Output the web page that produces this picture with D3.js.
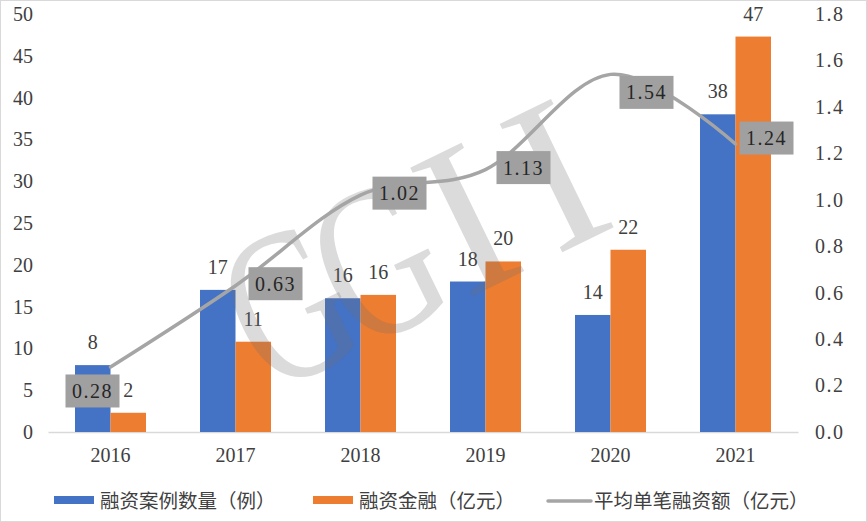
<!DOCTYPE html>
<html><head><meta charset="utf-8">
<script src="https://cdn.jsdelivr.net/npm/d3@7"></script>
<style>
body{margin:0;background:#fff;}
svg{display:block;}
</style></head>
<body><svg id="c" width="867" height="522"></svg>
<script>
const years = ["2016","2017","2018","2019","2020","2021"];
const caseCount = [8, 17, 16, 18, 14, 38];
const amount = [2.3, 10.8, 16.4, 20.4, 21.8, 47.3];
const avgAmount = [0.28, 0.63, 1.02, 1.13, 1.54, 1.24];
const leftTicks = [0,5,10,15,20,25,30,35,40,45,50];
const rightTicks = [0,0.2,0.4,0.6,0.8,1.0,1.2,1.4,1.6,1.8];
const seriesNames = ["融资案例数量（例）","融资金融（亿元）","平均单笔融资额（亿元）"];
const watermark = ["G","G","I","I"];
// label offsets (layout only)
const lblOff = [[-18,24],[40,-2],[39,-2],[38,-2],[36,18],[31,-6]];

const svg = d3.select("#c");
const numFont = "'Liberation Serif', 'DejaVu Serif', serif";
const cjkFont = "'Noto Sans CJK SC', sans-serif";
const blue = "#4472c4", orange = "#ed7d31", gray = "#a5a5a5";

svg.append("rect").attr("x",0.5).attr("y",0.5).attr("width",866).attr("height",521)
  .attr("fill","#fff").attr("stroke","#d9d9d9");

const x0 = d3.scaleBand().domain(years).range([48,798]).paddingInner(0.432).paddingOuter(0.216);
const x1 = d3.scaleBand().domain([0,1]).range([0,x0.bandwidth()]);
const yL = d3.scaleLinear().domain([0,50]).range([432,14]);
const yR = d3.scaleLinear().domain([0,1.8]).range([432,14]);

// left axis labels
const axL = svg.append("g").attr("transform","translate(33,0)")
  .call(d3.axisLeft(yL).tickValues(leftTicks).tickSize(0).tickPadding(0));
axL.select(".domain").remove();
axL.selectAll("text").attr("font-family",numFont).attr("font-size",20).attr("fill","#404040");

const axR = svg.append("g").attr("transform","translate(815,0)")
  .call(d3.axisRight(yR).tickValues(rightTicks).tickSize(0).tickPadding(0).tickFormat(d3.format(".1f")));
axR.select(".domain").remove();
axR.selectAll("text").attr("font-family",numFont).attr("font-size",20).attr("fill","#404040").attr("letter-spacing","1.5px");

// x axis
const axB = svg.append("g").attr("transform","translate(0,432)")
  .call(d3.axisBottom(x0).tickSize(0).tickPadding(16));
axB.select(".domain").attr("stroke","#d9d9d9").attr("stroke-width",1.5);
axB.selectAll("text").attr("font-family",numFont).attr("font-size",20).attr("fill","#404040");

// bars
const g = svg.append("g");
const series = [caseCount, amount];
const colors = [blue, orange];
series.forEach((vals,si)=>{
  g.selectAll(null).data(vals).join("rect")
    .attr("x",(d,i)=>x0(years[i])+x1(si))
    .attr("width",x1.bandwidth())
    .attr("y",d=>yL(d))
    .attr("height",d=>432-yL(d))
    .attr("fill",colors[si]);
  g.selectAll(null).data(vals).join("text")
    .attr("x",(d,i)=>x0(years[i])+x1(si)+x1.bandwidth()/2)
    .attr("y",d=>yL(d)-16)
    .attr("text-anchor","middle")
    .attr("font-family",numFont).attr("font-size",20).attr("fill","#404040")
    .text(d=>d3.format(".0f")(d));
});

// watermark
const wm = svg.append("g").attr("transform","translate(288,306) rotate(-26)");
wm.selectAll("text").data(watermark).join("text")
  .attr("transform",(d,i)=>`translate(${i*99.5},72) scale(${d==="G"?0.72:1},1)`)
  .attr("text-anchor","middle")
  .attr("font-family",numFont).attr("font-size",218)
  .attr("fill","rgba(110,110,110,0.25)")
  .text(d=>d);

// line
const cx = i=>x0(years[i])+x0.bandwidth()/2;
const line = d3.line().x((d,i)=>cx(i)).y(d=>yR(d)).curve(d3.curveCardinal.tension(0));
svg.append("path").datum(avgAmount).attr("d",line)
  .attr("fill","none").attr("stroke",gray).attr("stroke-width",3.5).attr("stroke-linecap","round");

// line labels
const lg = svg.append("g");
avgAmount.forEach((v,i)=>{
  const px = cx(i)+lblOff[i][0], py = yR(v)+lblOff[i][1];
  lg.append("rect").attr("x",px-27).attr("y",py-16.5).attr("width",54).attr("height",33).attr("fill","#a0a0a0");
  lg.append("text").attr("x",px).attr("y",py+7).attr("text-anchor","middle")
    .attr("font-family",numFont).attr("font-size",20).attr("fill","#262626").attr("letter-spacing","1.5px")
    .text(d3.format(".2f")(v));
});

// legend
const leg = svg.append("g");
const legItems = [
  {x:54, type:"rect", c:blue, t:seriesNames[0]},
  {x:313, type:"rect", c:orange, t:seriesNames[1]},
  {x:548, type:"line", c:gray, t:seriesNames[2]}
];
legItems.forEach(it=>{
  if(it.type==="rect") leg.append("rect").attr("x",it.x).attr("y",496).attr("width",40).attr("height",8).attr("fill",it.c);
  else leg.append("line").attr("x1",it.x).attr("x2",it.x+43).attr("y1",501).attr("y2",501).attr("stroke",it.c).attr("stroke-width",3.5).attr("stroke-linecap","round");
  leg.append("text").attr("x",it.x+46).attr("y",508)
    .attr("font-family",cjkFont).attr("font-size",19.5).attr("fill","#404040").text(it.t);
});
</script></body></html>
